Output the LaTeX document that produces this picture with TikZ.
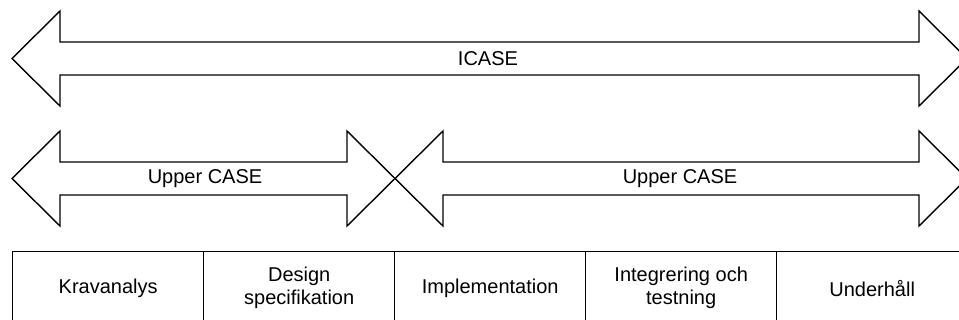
\documentclass[tikz,border=0pt]{standalone}
\usepackage{fontspec}
\setmainfont{Liberation Sans}
\begin{document}
\begin{tikzpicture}[x=1pt,y=-1pt,
  outline/.style={draw=black,line width=1.4pt,line join=miter,fill=white},
  lbl/.style={font=\fontsize{20}{23}\selectfont,align=center,inner sep=0pt},
  cell/.style={draw=black,line width=1.4pt,minimum width=191pt,minimum height=73pt,
    font=\fontsize{20}{23}\selectfont,align=center,inner sep=0pt,anchor=north west}]
\useasboundingbox (0,0) rectangle (959,320);
\clip (0,0) rectangle (959,320);
% ICASE double arrow
\draw[outline] (12,58.5) -- (60,11) -- (60,42) -- (919,42) -- (919,11) -- (967,58.5)
  -- (919,106) -- (919,75) -- (60,75) -- (60,106) -- cycle;
\node[lbl] (icase) at (488,58.5) {ICASE};
% left Upper CASE double arrow
\draw[outline,fill=none] (12,178.5) -- (60,131) -- (60,162) -- (347,162) -- (347,131) -- (395,178.5)
  -- (347,226) -- (347,195) -- (60,195) -- (60,226) -- cycle;
% right Upper CASE double arrow
\draw[outline,fill=none] (395,178.5) -- (443,131) -- (443,162) -- (919,162) -- (919,131) -- (967,178.5)
  -- (919,226) -- (919,195) -- (443,195) -- (443,226) -- cycle;
\node[lbl] (upl) at (205,178.5) {Upper CASE};
\node[lbl] (upr) at (680,178.5) {Upper CASE};
% phase table
\node[cell] (c1) at (12,251) {Kravanalys};
\node[cell] (c2) at (203,251) {Design\\specifikation};
\node[cell] (c3) at (394,251) {Implementation};
\node[cell] (c4) at (585,251) {Integrering och\\testning};
\node[cell] (c5) at (776,251) {Underhåll};
\end{tikzpicture}
\end{document}
